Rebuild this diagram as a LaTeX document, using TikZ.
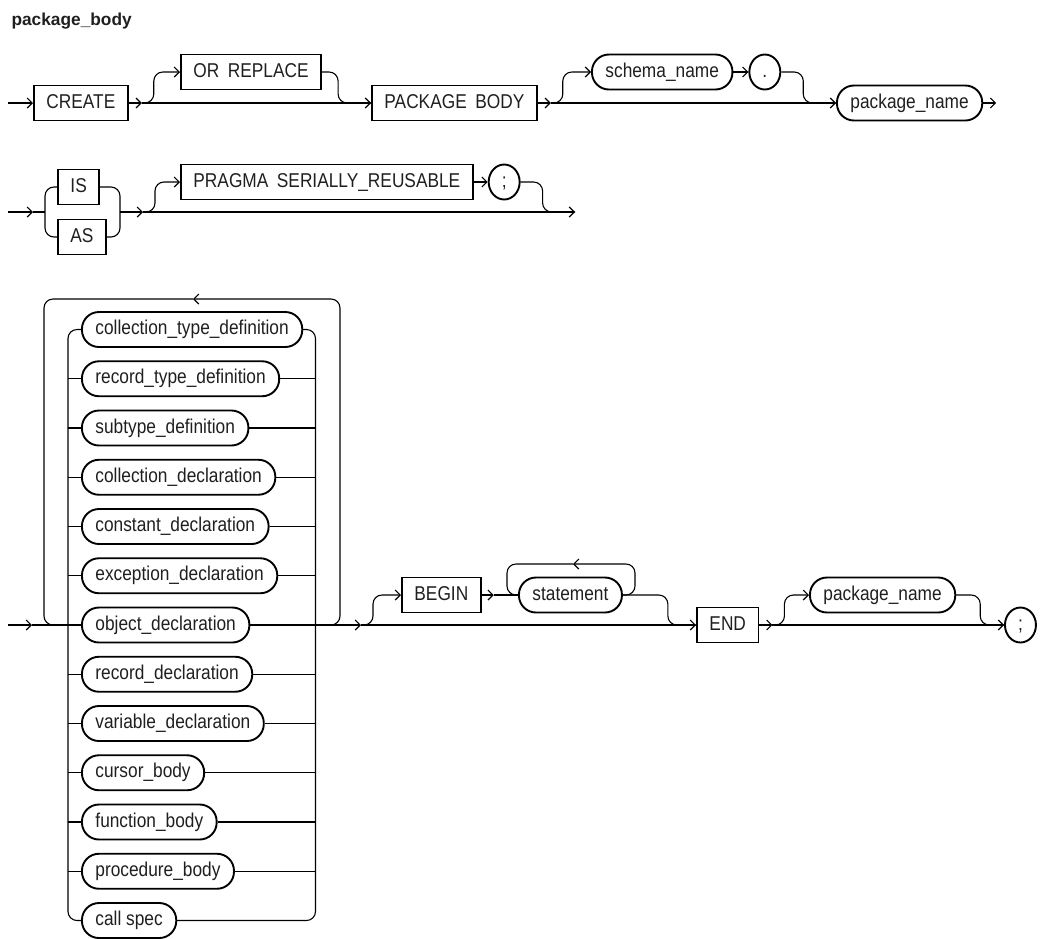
\documentclass[tikz,border=0pt]{standalone}
\usepackage{fontspec}
\setmainfont{Liberation Sans}[FakeStretch=0.865]
\newfontfamily\ttlfont{Liberation Sans}
\usepackage{tikz}
\usetikzlibrary{arrows.meta,positioning,shapes.geometric}
\newcommand{\rrfont}{\fontsize{20}{24}\selectfont}

\begin{document}
\begin{tikzpicture}[x=1pt, y=-1pt, every node/.style={font=\rrfont, text=black!88}, box/.style={rectangle, draw, line width=1.9pt, minimum height=35pt, inner xsep=12.5pt, inner ysep=0pt, text height=14.5pt, text depth=4.2pt, execute at begin node={\spaceskip=8.5pt\relax}}, term/.style={rectangle, rounded corners=17pt, draw, line width=1.9pt, minimum height=35pt, inner xsep=13.5pt, inner ysep=0pt, text height=14.5pt, text depth=4.2pt}, sym/.style={ellipse, draw, line width=1.9pt, minimum width=31pt, minimum height=35pt, inner sep=0pt, text height=14.5pt, text depth=4.2pt}, conn/.style={line width=1.1pt}, arr/.style={conn, -{Straight Barb[length=5pt, width=10pt]}}, rnd/.style={conn, rounded corners=9pt}]
\useasboundingbox (0,0) rectangle (1040,938);
\node[font=\ttlfont\fontsize{17.3}{20}\selectfont\bfseries, anchor=base west] (title) at (8,25) {package\_body};

% first line
\coordinate (s1) at (8,103);
\node[box, anchor=west] (create) at (33,103) {CREATE};
\coordinate[right=13pt of create.east] (j1);
\node[box, anchor=west] (orr) at (180,72) {OR REPLACE};
\node[box, anchor=west] (pb) at (371,103) {PACKAGE BODY};
\coordinate[right=13pt of pb.east] (j2);
\node[term, anchor=west] (sch) at (591,72) {schema\_name};
\node[sym, right=15pt of sch] (dot) {.};
\node[term, anchor=west] (pn1) at (836,103) {package\_name};
\coordinate[right=13pt of pn1.east] (x1);
\draw[arr] (s1) -- (create.west);
\draw[arr] (create.east) -- (j1);
\draw[arr, rnd] (j1) -- ++(12,0) |- (orr.west);
\draw[arr] (j1) -- (pb.west);
\draw[rnd] (orr.east) -- ++(16,0) |- (pb.west);
\draw[arr] (pb.east) -- (j2);
\draw[arr, rnd] (j2) -- ++(12,0) |- (sch.west);
\draw[arr] (sch) -- (dot);
\draw[arr] (j2) -- (pn1.west);
\draw[rnd] (dot.east) -- ++(22,0) |- (pn1.west);
\draw[arr] (pn1.east) -- (x1);

% second line
\coordinate (s2) at (8,212);
\coordinate (e2) at (33,212);
\coordinate (bl2) at (45,212);
\node[box, anchor=west] (is) at (57,187) {IS};
\node[box, anchor=west] (as) at (57,237) {AS};
\coordinate (br2) at (120,212);
\coordinate (j3) at (143,212);
\node[box, anchor=west] (prg) at (180,182) {PRAGMA SERIALLY\_REUSABLE};
\node[sym, right=14pt of prg] (semi2) {;};
\coordinate (x2) at (575,212);
\draw[arr] (s2) -- (e2);
\draw[conn] (e2) -- (bl2);
\draw[rnd] (is.west) -| (bl2) |- (as.west);
\draw[rnd] (is.east) -| (br2) |- (as.east);
\draw[arr] (br2) -- (j3);
\draw[arr, rnd] (j3) -- ++(12,0) |- (prg.west);
\draw[arr] (prg) -- (semi2);
\draw[arr] (j3) -- (x2);
\draw[rnd] (semi2.east) -- ++(22,0) |- (x2);

% third line: declarations loop
\coordinate (s3) at (8,625);
\coordinate (e3) at (32,625);
\foreach \lbl [count=\i] in {collection\_type\_definition, record\_type\_definition, subtype\_definition, collection\_declaration, constant\_declaration, exception\_declaration, object\_declaration, record\_declaration, variable\_declaration, cursor\_body, function\_body, procedure\_body, call spec}
  \node[term, anchor=west] (n\i) at (81,{329.5+49.25*(\i-1)}) {\lbl};
\coordinate (chL) at (68,625);
\coordinate (chR) at (315.5,625);
\coordinate (lpR) at (340,299);
\coordinate (lpM) at (193,299);
\coordinate (lpL) at (44,625);
\draw[rnd] (n1.west) -| (chL) |- (n13.west);
\draw[rnd] (n1.east) -| (chR) |- (n13.east);
\foreach \i in {2,...,12}
  \draw[conn] (n\i.west -| chL) -- (n\i.west) (n\i.east) -- (n\i.east -| chR);
\draw[arr, rnd] (chR) -| (lpR) -- (lpM);
\draw[rnd] (lpM) -| (lpL) -- (chL);
\draw[arr] (s3) -- (e3);
\draw[conn] (e3) -- (n7.west);

% BEGIN ... END
\coordinate (j4) at (361,625);
\node[box, anchor=west] (begin) at (401,595) {BEGIN};
\coordinate[right=12pt of begin.east] (j5);
\node[term, anchor=west] (stmt) at (518,595) {statement};
\coordinate (slR) at (635,564);
\coordinate (slM) at (573,564);
\coordinate (slL) at (507,595);
\node[box, anchor=west] (end) at (696,625) {END};
\coordinate[right=13pt of end.east] (j6);
\node[term, anchor=west] (pn3) at (809,595) {package\_name};
\node[sym, anchor=west] (semi3) at (1004,625) {;};
\draw[arr] (chR) -- (j4);
\draw[arr, rnd] (j4) -- ++(12,0) |- (begin.west);
\draw[arr] (j4) -- (end.west);
\draw[arr] (begin.east) -- (j5);
\draw[conn] (j5) -- (stmt.west);
\draw[arr, rnd] (stmt.east) -| (slR) -- (slM);
\draw[rnd] (slM) -| (slL) -- (stmt.west);
\draw[rnd] (stmt.east) -- ++(45,0) |- (end.west);
\draw[arr] (end.east) -- (j6);
\draw[arr, rnd] (j6) -- ++(12,0) |- (pn3.west);
\draw[arr] (j6) -- (semi3.west);
\draw[rnd] (pn3.east) -- ++(24,0) |- (semi3.west);
\end{tikzpicture}
\end{document}
